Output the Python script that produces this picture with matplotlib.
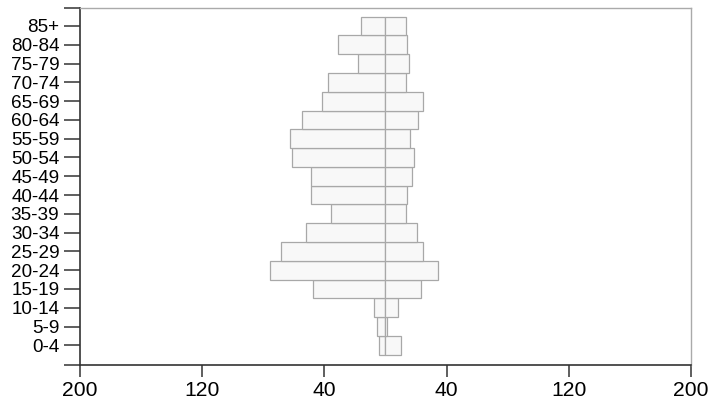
import matplotlib
matplotlib.use("Agg")
import matplotlib.pyplot as plt
import numpy as np

# age groups, bottom to top
age_groups = ['0-4', '5-9', '10-14', '15-19', '20-24', '25-29', '30-34',
              '35-39', '40-44', '45-49', '50-54', '55-59', '60-64',
              '65-69', '70-74', '75-79', '80-84', '85+']
# left side (drawn to the left of zero)
left_vals = [4.3, 5.8, 7.7, 47.7, 75.8, 68.6, 52.0, 35.7, 48.6, 48.6,
             61.0, 62.7, 54.9, 41.8, 37.4, 18.2, 31.3, 16.2]
# right side
right_vals = [10.1, 1.2, 8.2, 23.0, 34.6, 24.8, 20.4, 13.4, 14.3, 17.6,
              18.7, 16.0, 21.3, 24.8, 13.4, 15.2, 14.3, 13.4]
x_ticks = [-200, -120, -40, 40, 120, 200]
x_tick_labels = ['200', '120', '40', '40', '120', '200']

plt.rcParams['font.family'] = ['Liberation Sans', 'DejaVu Sans']

fig = plt.figure(figsize=(7.1, 4.01), dpi=100)
ax = fig.add_axes([0.1127, 0.0910, 0.8605, 0.8883])

y = np.arange(len(age_groups))
bar_style = dict(height=1.0, color='#f8f8f8', edgecolor='#a8a8a8', linewidth=0.9)
ax.barh(y, -np.array(left_vals), **bar_style)
ax.barh(y, right_vals, **bar_style)

ax.set_xlim(-200, 200)
ylo, yhi = -1.02, 17.94
ax.set_ylim(ylo, yhi)

ax.set_yticks(y)
ax.set_yticklabels(age_groups)
ax.set_yticks([ylo, yhi], minor=True)
ax.set_xticks(x_ticks)
ax.set_xticklabels(x_tick_labels)

ax.tick_params(axis='y', which='both', length=11.5, width=1.1, color='#333333',
               labelsize=13.6, pad=3.4)
ax.tick_params(axis='x', length=8.8, width=1.1, color='#333333',
               labelsize=15.2, pad=3.2)

for side in ['left', 'bottom']:
    ax.spines[side].set_color('#333333')
    ax.spines[side].set_linewidth(1.2)
for side in ['top', 'right']:
    ax.spines[side].set_color('#aaaaaa')
    ax.spines[side].set_linewidth(1.0)

fig.savefig('out.png', dpi=100)
